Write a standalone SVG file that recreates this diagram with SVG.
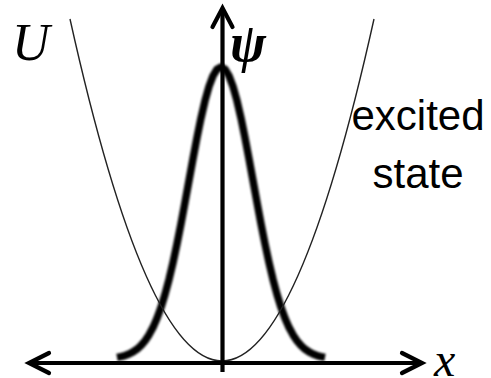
<svg xmlns="http://www.w3.org/2000/svg" width="491" height="378" viewBox="0 0 491 378">
  <defs>
    <style>
      .axis { fill: none; stroke: #000; stroke-width: 4.2; }
      .head { fill: none; stroke: #000; stroke-width: 4.2; stroke-linecap: round; stroke-linejoin: miter; }
      .math { font-family: "Liberation Serif", "Times New Roman", serif; font-style: italic; fill: #000; }
      .sans { font-family: "Liberation Sans", Arial, sans-serif; fill: #000; }
    </style>
    <filter id="soft" x="-10%" y="-10%" width="120%" height="120%">
      <feGaussianBlur stdDeviation="0.9"/>
    </filter>
  </defs>
  <rect width="491" height="378" fill="#fff"/>

  <g id="wavefunction">
    <polyline filter="url(#soft)" fill="none" stroke="#000" stroke-width="7.5" stroke-linejoin="round"
      points="117,357.39 121,356.61 125,355.53 129,354.01 133,351.95 137,349.18 141,345.54 145,340.83 149,334.85 153,327.39 157,318.25 161,307.27 165,294.35 169,279.42 173,262.54 177,243.88 181,223.70 185,202.40 189,180.53 193,158.70 197,137.63 201,118.09 205,100.81 209,86.53 213,75.85 217,69.24 221,67 225,69.24 229,75.85 233,86.53 237,100.81 241,118.09 245,137.63 249,158.70 253,180.53 257,202.40 261,223.70 265,243.88 269,262.54 273,279.42 277,294.35 281,307.27 285,318.25 289,327.39 293,334.85 297,340.83 301,345.54 305,349.18 309,351.95 313,354.01 317,355.53 321,356.61 325,357.39"/>
  </g>

  <g id="potential">
    <path d="M70,19 Q222,703 374,19" fill="none" stroke="#222" stroke-width="1.4"/>
  </g>

  <g id="axes">
    <line class="axis" x1="30" y1="363" x2="421" y2="363"/>
    <polyline class="head" points="49,353 29,363 49,373"/>
    <polyline class="head" points="402,353 422,363 402,373"/>
    <line class="axis" x1="222.5" y1="372" x2="222.5" y2="10"/>
    <polyline class="head" points="212.5,27 222.5,8 232.5,27"/>
  </g>

  <g id="labels">
    <text class="math" x="12" y="60" font-size="52">U</text>
    <text class="math" x="230" y="61" font-size="54" font-weight="bold">ψ</text>
    <text class="math" x="434" y="376" font-size="48">x</text>
    <text class="sans" x="418" y="130" font-size="42" text-anchor="middle">excited</text>
    <text class="sans" x="418" y="188" font-size="42" text-anchor="middle">state</text>
  </g>
</svg>
